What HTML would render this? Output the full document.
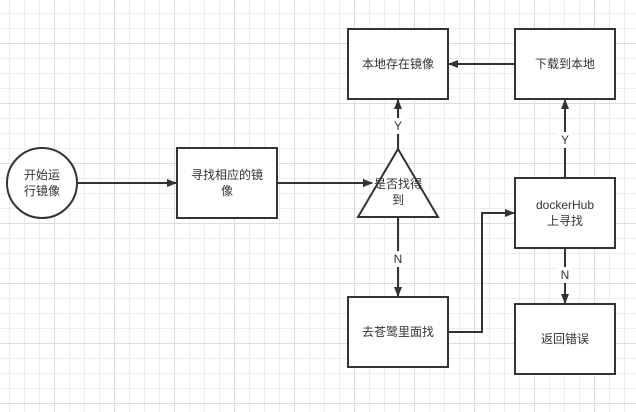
<!DOCTYPE html>
<html><head><meta charset="utf-8"><style>
html,body{margin:0;padding:0}
body{width:636px;height:412px;overflow:hidden;background-color:#fff;
background-image:
linear-gradient(#dcdcdc 1px,transparent 1px),
linear-gradient(90deg,#dcdcdc 1px,transparent 1px),
linear-gradient(#ececec 1px,transparent 1px),
linear-gradient(90deg,#ececec 1px,transparent 1px);
background-size:60px 60px,60px 60px,15px 15px,15px 15px;
background-position:0 43px,54px 0,0 13px,9px 0;}
svg{position:absolute;left:0;top:0}
text{font-family:"Liberation Sans","Noto Sans CJK SC",sans-serif;font-size:12px;fill:#333;text-anchor:middle}
</style></head><body>
<svg width="636" height="412" viewBox="0 0 636 412">
<defs><marker id="a" markerWidth="10" markerHeight="10" refX="9" refY="5" orient="auto" markerUnits="userSpaceOnUse"><path d="M0,1 L10,5 L0,9 Z" fill="#333"/></marker></defs>
<g stroke="#333" stroke-width="2" fill="none">
<line x1="77" y1="183" x2="176" y2="183" marker-end="url(#a)"/>
<line x1="277" y1="183" x2="372" y2="183" marker-end="url(#a)"/>
<line x1="398" y1="149" x2="398" y2="100" marker-end="url(#a)"/>
<line x1="398" y1="217" x2="398" y2="296" marker-end="url(#a)"/>
<polyline points="448,332 482,332 482,213 514,213" marker-end="url(#a)"/>
<line x1="565" y1="178" x2="565" y2="100" marker-end="url(#a)"/>
<line x1="565" y1="248" x2="565" y2="303" marker-end="url(#a)"/>
<line x1="515" y1="64" x2="449" y2="64" marker-end="url(#a)"/>
</g>
<g fill="#fff">
<rect x="390" y="118" width="16" height="16"/>
<rect x="390" y="251" width="16" height="16"/>
<rect x="557" y="132" width="16" height="16"/>
<rect x="557" y="267" width="16" height="16"/>
</g>
<g stroke="#333" stroke-width="2" fill="#fff">
<circle cx="42" cy="183" r="35"/>
<rect x="177" y="148" width="100" height="70"/>
<rect x="348" y="29" width="100" height="70"/>
<rect x="515" y="29" width="100" height="70"/>
<rect x="515" y="178" width="100" height="70"/>
<rect x="348" y="297" width="100" height="70"/>
<rect x="515" y="304" width="100" height="70"/>
<polygon points="398,149 438,217 358,217"/>
</g>
<line x1="358" y1="183" x2="372" y2="183" stroke="#333" stroke-width="2" marker-end="url(#a)"/>
<text x="42" y="179">开始运</text><text x="42" y="195">行镜像</text>
<text x="227" y="179">寻找相应的镜</text><text x="227" y="195">像</text>
<text x="398" y="68">本地存在镜像</text>
<text x="565" y="68">下载到本地</text>
<text x="398" y="188">是否找得</text><text x="398" y="204">到</text>
<text x="565" y="209">dockerHub</text><text x="565" y="225">上寻找</text>
<text x="398" y="336">去苍鹭里面找</text>
<text x="565" y="343">返回错误</text>
<text x="398" y="130">Y</text>
<text x="398" y="263">N</text>
<text x="565" y="144">Y</text>
<text x="565" y="279">N</text>
</svg>
</body></html>
